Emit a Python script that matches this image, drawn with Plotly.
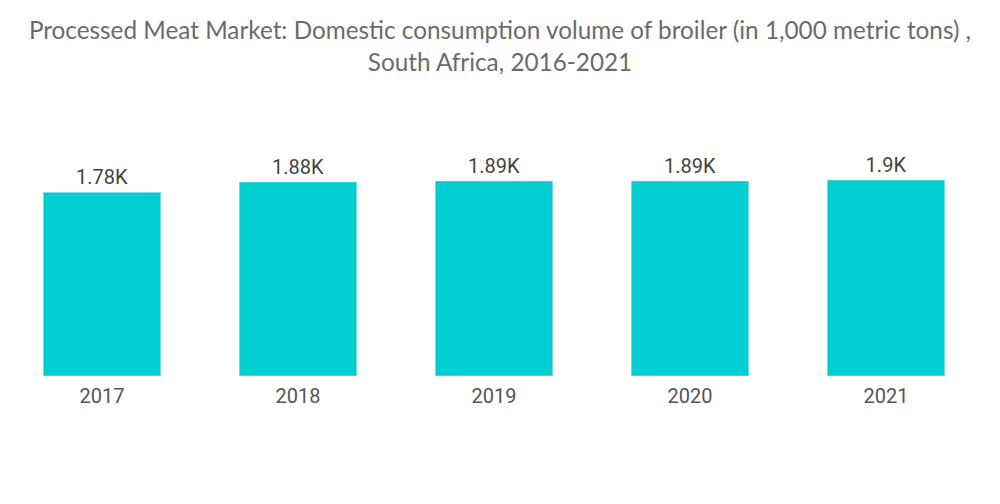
import plotly.graph_objects as go

years = ["2017", "2018", "2019", "2020", "2021"]
volume = [1780, 1880, 1890, 1890, 1900]
labels = ["1.78K", "1.88K", "1.89K", "1.89K", "1.9K"]

fig = go.Figure()
fig.add_trace(
    go.Bar(
        x=years,
        y=volume,
        text=labels,
        textposition="outside",
        textfont=dict(family="Roboto", size=20, color="#444444"),
        marker_color="#00CED1",
        cliponaxis=False,
        hoverinfo="skip",
    )
)

fig.update_layout(
    title=dict(
        text="Processed Meat Market: Domestic consumption volume of broiler (in 1,000 metric tons) ,<br>South Africa, 2016-2021",
        x=0.5,
        xanchor="center",
        y=0.922,
        yanchor="middle",
        font=dict(family="Lato", size=24.3, color="#6b6b6b"),
    ),
    width=1000,
    height=504,
    margin=dict(l=4, r=16, t=118, b=128),
    plot_bgcolor="white",
    paper_bgcolor="white",
    bargap=0.4,
    showlegend=False,
)
fig.update_xaxes(
    showline=False,
    showgrid=False,
    ticks="",
    ticklabelstandoff=6,
    tickfont=dict(family="Roboto", size=20, color="#555555"),
)
fig.update_yaxes(range=[0, 2500], visible=False)

# drop the default page margin so the figure sits at the window corner
fig.write_html(
    "out.html",
    config={"displayModeBar": False},
    post_script="document.body.style.margin='0px';",
)
